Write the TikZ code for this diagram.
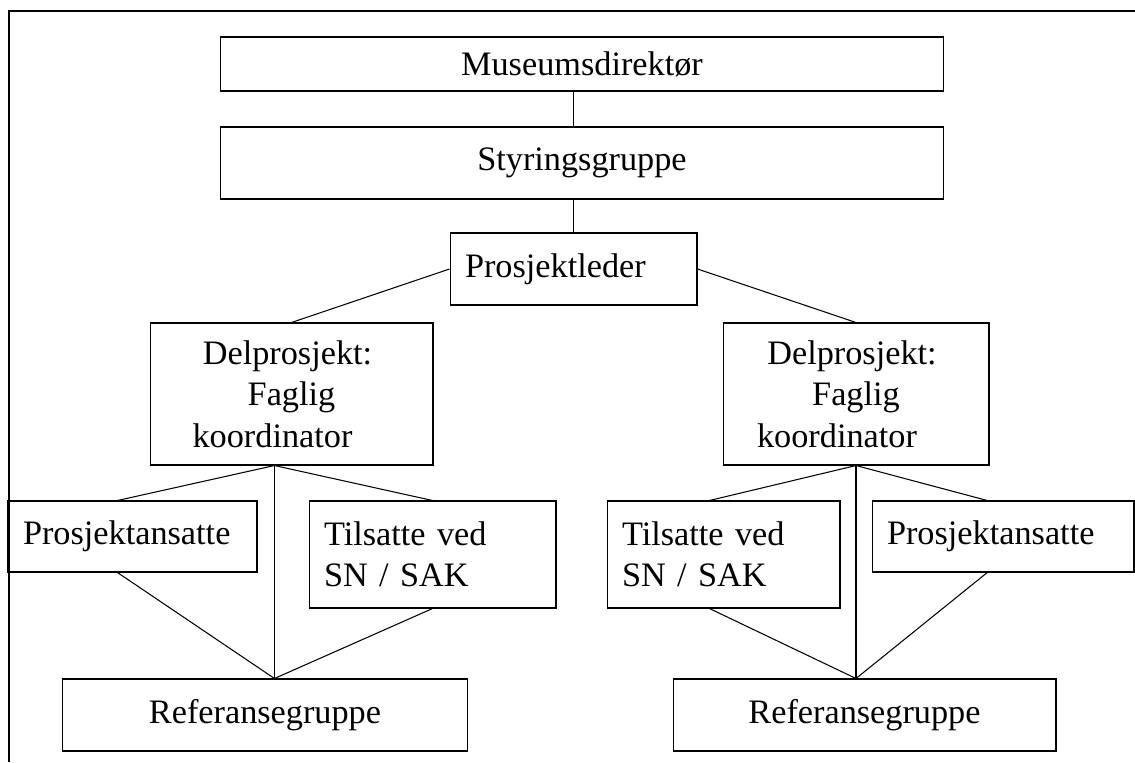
\documentclass[tikz,border=0pt]{standalone}
\usepackage{fontspec}
\setmainfont{Liberation Serif}
\usetikzlibrary{calc}
\tikzset{orgbox/.style={draw, line width=0.6pt, inner sep=0pt, align=center, font=\fontsize{19.5}{23.5}\selectfont},
  leftbox/.style={orgbox, align=left, inner xsep=0.3cm}}

\begin{document}
\begin{tikzpicture}[x=0.02cm, y=-0.02cm, line width=0.6pt]

\useasboundingbox (0,0) rectangle (1135,762);

% frame
\draw [line width=1.4pt] (9,762) -- (9,11) -- (1135,11);

% nodes

\node [style = orgbox, minimum width=14.48cm, minimum height=1.08cm] (dir) at (582, 64) {Museumsdirektør};
\node [style = orgbox, minimum width=14.48cm, minimum height=1.44cm] (styr) at (582, 163) {Styringsgruppe};
\node [style = leftbox, text width=4.34cm, minimum height=1.44cm] (leder) at (573.5, 269) {Prosjektleder};

\node [style = orgbox, minimum width=5.66cm, minimum height=2.84cm] (delL) at (291.5, 394)
  {Delprosjekt:\hspace*{0.16cm}\\Faglig\hspace*{0.8cm}\\koordinator\hspace*{0.76cm}};
\node [style = orgbox, minimum width=5.32cm, minimum height=2.84cm] (delR) at (856, 394)
  {Delprosjekt:\hspace*{0.16cm}\\Faglig\hspace*{0.8cm}\\koordinator\hspace*{0.76cm}};

\node [style = leftbox, text width=4.38cm, minimum height=1.42cm] (ansL) at (132.5, 536.5) {Prosjektansatte};
\node [style = leftbox, text width=4.34cm, minimum height=2.14cm] (tilL) at (432.5, 554.5) {Tilsatte ved\\SN / SAK};
\node [style = orgbox, minimum width=8.12cm, minimum height=1.44cm] (refL) at (265, 715) {Referansegruppe};

\node [style = leftbox, text width=4.06cm, minimum height=2.14cm] (tilR) at (723.5, 554.5) {Tilsatte ved\\SN / SAK};
\node [style = leftbox, text width=4.64cm, minimum height=1.42cm] (ansR) at (1003, 536.5) {Prosjektansatte};
\node [style = orgbox, minimum width=7.66cm, minimum height=1.44cm] (refR) at (864.5, 715) {Referansegruppe};

\coordinate (hubL) at ($(delL.south west)!0.44!(delL.south east)$);
\coordinate (hubR) at (delR.south);

%  edges
\draw (leder.north |- dir.south) -- (leder.north |- styr.north);
\draw (leder.north |- styr.south) -- (leder.north);
\draw (leder.west) -- (delL.north);
\draw (leder.east) -- (delR.north);

\draw ($(ansL.north west)!0.44!(ansL.north east)$) -- (hubL) -- (tilL.north);
\draw (hubL) -- (refL.north -| hubL);
\draw ($(ansL.south west)!0.44!(ansL.south east)$) -- (refL.north -| hubL) -- (tilL.south);

\draw ($(tilR.north west)!0.44!(tilR.north east)$) -- (hubR) -- ($(ansR.north west)!0.44!(ansR.north east)$);
\draw (hubR) -- (refR.north -| hubR);
\draw ($(tilR.south west)!0.44!(tilR.south east)$) -- (refR.north -| hubR) -- ($(ansR.south west)!0.44!(ansR.south east)$);

\end{tikzpicture}
\end{document}
